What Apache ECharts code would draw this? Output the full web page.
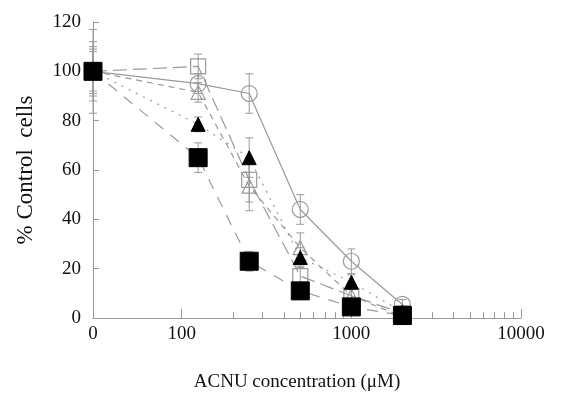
<!DOCTYPE html>
<html>
<head>
<meta charset="utf-8">
<script src="https://cdn.jsdelivr.net/npm/echarts@6/dist/echarts.min.js"></script>
<style>
  html, body { margin: 0; padding: 0; background: #fff; }
  #chart { width: 563px; height: 397px; }
</style>
</head>
<body>
<div id="chart"></div>
<script>
// concentrations (uM); 0 is drawn at the left end of the broken log axis
const concentrations = [0, 125, 250, 500, 1000, 2000]
const ZERO_POS = 30

const circleOpen = [100, 95, 91, 44, 23, 5.5]
const squareOpen = [100, 102, 56, 17, 9, 2]
const triangleOpen = [100, 91.5, 53.5, 28.5, 9, 0.5]
const triangleFilled = [100, 78.5, 65, 24.5, 14.5, 2.5]
const squareFilled = [100, 65, 23, 11, 4.5, 1]

// +/- error
const circleErr = [12, 4, 8, 6, 5, 2]
const squareErr = [17, 5, 9, 4, 3, 2]
const triangleOpenErr = [9, 4, 10, 6, 3, 1]
const triangleFilledErr = [8, 3, 8, 4, 3, 1]
const squareFilledErr = [10, 6, 4, 2, 2, 1]

const majorTicks = [100, 1000, 10000]
const minorTicks = [200, 300, 400, 500, 600, 700, 800, 900,
  2000, 3000, 4000, 5000, 6000, 7000, 8000, 9000]
const xLabels = [ZERO_POS, 100, 1000, 10000]

const gray = '#9a9a9a'
const font = 'Liberation Serif'

const xPos = (c) => (c === 0 ? ZERO_POS : c)
const toPoints = (vals) => vals.map((v, i) => [xPos(concentrations[i]), v])
const toErr = (vals, errs) =>
  vals.map((v, i) => [xPos(concentrations[i]), v - errs[i], v + errs[i]])

const errorSeries = (vals, errs) => ({
  type: 'custom',
  silent: true,
  z: 1,
  data: toErr(vals, errs),
  renderItem: (params, api) => {
    const lo = api.coord([api.value(0), api.value(1)])
    const hi = api.coord([api.value(0), api.value(2)])
    const w = 4
    const style = { stroke: gray, lineWidth: 1 }
    return {
      type: 'group',
      children: [
        { type: 'line', shape: { x1: lo[0], y1: lo[1], x2: hi[0], y2: hi[1] }, style },
        { type: 'line', shape: { x1: lo[0] - w, y1: lo[1], x2: lo[0] + w, y2: lo[1] }, style },
        { type: 'line', shape: { x1: hi[0] - w, y1: hi[1], x2: hi[0] + w, y2: hi[1] }, style }
      ]
    }
  }
})

const lineSeries = (vals, symbol, size, filled, dash) => ({
  type: 'line',
  data: toPoints(vals),
  symbol,
  symbolSize: size,
  showAllSymbol: true,
  z: filled ? 4 : 3,
  lineStyle: { color: gray, width: 1.2, type: dash },
  itemStyle: filled
    ? { color: '#000', borderColor: '#000', borderWidth: 1 }
    : { color: 'rgba(255,255,255,0)', borderColor: gray, borderWidth: 1.2 }
})

const chart = echarts.init(document.getElementById('chart'))

const option = {
  animation: false,
  backgroundColor: '#fff',
  grid: { left: 93, right: 42, top: 22, bottom: 77 },
  xAxis: [
    {
      type: 'log',
      min: ZERO_POS,
      max: 10000,
      name: 'ACNU concentration (μM)',
      nameLocation: 'middle',
      nameGap: 55,
      nameTextStyle: { fontFamily: font, fontSize: 19, color: '#111', padding: [0, 20, 0, 0] },
      axisLine: { lineStyle: { color: gray, width: 1 } },
      axisTick: { inside: true, length: 9, customValues: majorTicks, lineStyle: { color: gray } },
      axisLabel: {
        customValues: xLabels,
        margin: 7,
        fontFamily: font,
        fontSize: 19,
        color: '#111',
        formatter: (v) => (v <= ZERO_POS ? '0' : String(Math.round(v)))
      },
      splitLine: { show: false }
    },
    {
      type: 'log',
      min: ZERO_POS,
      max: 10000,
      position: 'bottom',
      axisLine: { show: false },
      axisTick: { inside: true, length: 6, customValues: minorTicks, lineStyle: { color: gray } },
      axisLabel: { show: false },
      splitLine: { show: false }
    }
  ],
  yAxis: {
    type: 'value',
    min: 0,
    max: 120,
    interval: 20,
    name: '% Control  cells',
    nameLocation: 'middle',
    nameGap: 56,
    nameTextStyle: { fontFamily: font, fontSize: 23, color: '#111' },
    axisLine: { show: true, lineStyle: { color: gray, width: 1 } },
    axisTick: { show: true, inside: true, length: 6, lineStyle: { color: gray } },
    axisLabel: { margin: 12, fontFamily: font, fontSize: 19, color: '#111' },
    splitLine: { show: false }
  },
  series: [
    errorSeries(circleOpen, circleErr),
    errorSeries(squareOpen, squareErr),
    errorSeries(triangleOpen, triangleOpenErr),
    errorSeries(triangleFilled, triangleFilledErr),
    errorSeries(squareFilled, squareFilledErr),
    lineSeries(circleOpen, 'circle', 16, false, 'solid'),
    lineSeries(squareOpen, 'rect', 15, false, [14, 6]),
    lineSeries(triangleOpen, 'triangle', 14, false, [6, 5]),
    lineSeries(triangleFilled, 'triangle', 14, true, [2, 6]),
    lineSeries(squareFilled, 'rect', 18, true, [11, 9])
  ]
}

chart.setOption(option)
</script>
</body>
</html>
